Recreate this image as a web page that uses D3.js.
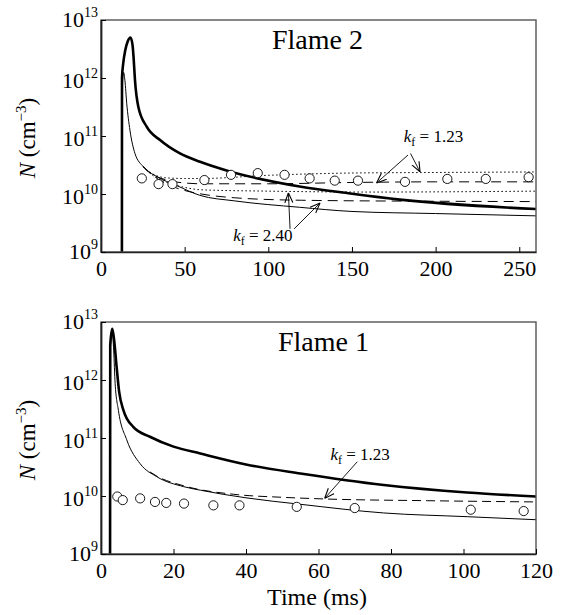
<!DOCTYPE html>
<html>
<head>
<meta charset="utf-8">
<script src="https://cdn.jsdelivr.net/npm/d3@7"></script>
<style>
  body { margin: 0; background: #fff; }
  svg { display: block; }
  svg text { font-family: "Liberation Serif", "Times New Roman", serif; fill: #000; }
</style>
</head>
<body>
<svg id="chart" width="566" height="615"></svg>
<script>
// Flame 2 (upper panel): time in ms, N in cm^-3
var f2Thick = [[12.5,1e9],[12.55,1e12],[13.3,1.8e12],[14.5,3e12],[16,4.3e12],[17.6,5e12],[18.8,3.8e12],[19.5,2.2e12],[20.3,9.3e11],[22.3,3.2e11],[27.3,1.45e11],[35.3,8.5e10],[47.2,5e10],[59.2,3.6e10],[76,2.5e10],[118.7,1.35e10],[149,1.02e10],[178.7,8e9],[260,5.5e9]];
var f2Thin = [[12.5,1e9],[12.55,5e11],[13.5,1.25e12],[14.3,9e11],[15.4,3.6e11],[17.3,1.26e11],[20.3,5e10],[25.3,2.95e10],[33.3,2e10],[45.2,1.4e10],[59,9.5e9],[80,7.6e9],[118.7,5.9e9],[150,5e9],[200,4.6e9],[260,4.2e9]];
var f2Dot123 = [[25.3,2.95e10],[30,2.3e10],[39,1.9e10],[50,1.85e10],[60,1.85e10],[100,2.1e10],[150,2.3e10],[200,2.35e10],[260,2.4e10]];
var f2Dash123 = [[25.3,2.95e10],[30,2.25e10],[39,1.75e10],[50,1.55e10],[60,1.5e10],[100,1.5e10],[150,1.58e10],[200,1.62e10],[260,1.62e10]];
var f2Dot240 = [[25.3,2.95e10],[30,2.2e10],[39,1.6e10],[50,1.3e10],[60,1.18e10],[100,1.12e10],[160,1.08e10],[260,1.12e10]];
var f2Dash240 = [[25.3,2.95e10],[30,2.2e10],[39,1.5e10],[50,1.15e10],[60,1e10],[80,8.6e9],[120,7.8e9],[200,7.5e9],[260,7.4e9]];
var f2ObsTime = [24.4,34.4,42.7,61.8,77.7,93.7,109.7,124.7,139.7,153.6,181.7,207,230,255.6];
var f2ObsN = [1.86e10,1.48e10,1.48e10,1.74e10,2.14e10,2.29e10,2.14e10,1.86e10,1.7e10,1.7e10,1.62e10,1.82e10,1.82e10,1.95e10];

// Flame 1 (lower panel)
var f1Thick = [[2.5,1e9],[2.55,4e12],[3.1,7.6e12],[3.6,5e12],[4.3,1.7e12],[5,6.3e11],[6.2,3e11],[8.9,1.55e11],[13.5,1.05e11],[20,7.1e10],[27.4,5.4e10],[40,3.5e10],[55,2.45e10],[78,1.55e10],[101,1.15e10],[120,9.8e9]];
var f1Thin = [[2.5,1e9],[2.55,3e12],[3.1,7e12],[3.5,3.2e12],[3.9,8.7e11],[4.8,3e11],[7.1,9.3e10],[10.8,3.6e10],[15.4,2.15e10],[22.8,1.45e10],[27.4,1.26e10],[40,9.3e9],[55,7.2e9],[78,5.1e9],[101,4.4e9],[120,3.9e9]];
var f1Dash123 = [[13.5,2.6e10],[15.4,2.2e10],[22.8,1.5e10],[36.6,1.07e10],[50,9.5e9],[61.5,8.9e9],[90,8.3e9],[120,7.9e9]];
var f1ObsTime = [4.5,6.0,10.8,14.9,18.0,22.9,31,38.2,54,70,102,116.6];
var f1ObsN = [9.8e9,8.5e9,9.1e9,7.9e9,7.6e9,7.4e9,6.9e9,6.9e9,6.5e9,6.2e9,5.8e9,5.5e9];

var yTicks = [1e9,1e10,1e11,1e12,1e13];
var f2XTicks = [0,50,100,150,200,250];
var f1XTicks = [0,20,40,60,80,100,120];

var svg = d3.select("#chart");

svg.append("defs").append("marker")
	.attr("id", "arrow")
	.attr("viewBox", "0 0 10 10")
	.attr("refX", 10)
	.attr("refY", 5)
	.attr("markerWidth", 10)
	.attr("markerHeight", 10)
	.attr("markerUnits", "userSpaceOnUse")
	.attr("orient", "auto")
	.append("path")
	.attr("d", "M0,1 L10,5 L0,9")
	.attr("fill", "none")
	.attr("stroke", "#000")
	.attr("stroke-width", 1.1);

function kfLabel(g, x, y, val){
	var t = g.append("text")
		.attr("x", x)
		.attr("y", y)
		.style("font-size", "17px");
	t.append("tspan").style("font-style", "italic").text("k");
	t.append("tspan").style("font-size", "12px").attr("dy", 4).text("f");
	t.append("tspan").attr("dy", -4).text(" = " + val);
}

function drawPanel(opt){
	var x0 = 101, x1 = 536;
	var x = d3.scaleLinear().domain(opt.xDomain).range([x0, x1]);
	var y = d3.scaleLog().domain([1e9, 1e13]).range([opt.bottom, opt.top]);
	var g = svg.append("g");

	var clipId = "clip" + opt.id;
	g.append("clipPath").attr("id", clipId)
		.append("rect")
		.attr("x", x0).attr("y", opt.top)
		.attr("width", x1 - x0).attr("height", opt.bottom - opt.top);

	var line = d3.line()
		.x(d => x(d[0]))
		.y(d => y(d[1]))
		.curve(d3.curveMonotoneX);

	var plot = g.append("g").attr("clip-path", "url(#" + clipId + ")");

	opt.series.forEach(function(s){
		plot.append("path")
			.datum(s.data)
			.attr("d", line)
			.attr("fill", "none")
			.attr("stroke", "#000")
			.attr("stroke-width", s.width)
			.attr("stroke-dasharray", s.dash || null);
	});

	plot.selectAll("circle.obs")
		.data(opt.obsT)
		.enter()
		.append("circle")
		.attr("class", "obs")
		.attr("cx", d => x(d))
		.attr("cy", (d, i) => y(opt.obsN[i]))
		.attr("r", 4.6)
		.attr("fill", "#fff")
		.attr("stroke", "#000")
		.attr("stroke-width", 0.9);

	// frame
	g.append("rect")
		.attr("x", x0).attr("y", opt.top)
		.attr("width", x1 - x0).attr("height", opt.bottom - opt.top)
		.attr("fill", "none")
		.attr("stroke", "#555")
		.attr("stroke-width", 1.4);

	// x axis
	var xa = g.append("g")
		.attr("transform", "translate(0," + opt.bottom + ")")
		.call(d3.axisBottom(x).tickValues(opt.xTicks).tickSizeInner(-5).tickSizeOuter(0).tickPadding(8));
	xa.select(".domain").attr("stroke", "#222").attr("stroke-width", 1.4);
	xa.selectAll("text")
		.style("font-family", "'Liberation Serif', serif")
		.style("font-size", "22px");

	// y axis
	var ya = g.append("g")
		.attr("transform", "translate(" + x0 + ",0)")
		.call(d3.axisLeft(y).tickValues(yTicks).tickSizeInner(-5).tickSizeOuter(0).tickFormat(""));
	ya.select(".domain").attr("stroke", "#222").attr("stroke-width", 1.8);

	ya.selectAll(".tick")
		.append("text")
		.attr("x", -3)
		.attr("y", (d, i) => (i === 0 || i === yTicks.length - 1) ? 6 : 9)
		.attr("text-anchor", "end")
		.style("font-family", "'Liberation Serif', serif")
		.each(function(d){
			var t = d3.select(this);
			t.append("tspan").style("font-size", "22px").text("10");
			t.append("tspan").style("font-size", "14px").attr("dy", -10).text(Math.round(Math.log10(d)));
		});

	// y label
	var yl = g.append("text")
		.attr("transform", "translate(35," + ((opt.top + opt.bottom) / 2 + 2) + ") rotate(-90)")
		.attr("text-anchor", "middle")
		.style("font-size", "23px");
	yl.append("tspan").style("font-style", "italic").text("N");
	yl.append("tspan").text(" (cm");
	yl.append("tspan").style("font-size", "15px").attr("dy", -9).text("\u22123");
	yl.append("tspan").attr("dy", 9).text(")");

	// title
	g.append("text")
		.attr("x", opt.titleX)
		.attr("y", opt.top + 29)
		.style("font-size", "28px")
		.text(opt.title);

	// annotations
	opt.notes.forEach(function(n){
		kfLabel(g, x(n.label[0]), y(n.label[1]), n.text);
		n.arrows.forEach(function(a){
			g.append("line")
				.attr("x1", x(a[0])).attr("y1", y(a[1]))
				.attr("x2", x(a[2])).attr("y2", y(a[3]))
				.attr("stroke", "#000")
				.attr("stroke-width", 0.9)
				.attr("marker-end", "url(#arrow)");
		});
	});
}

drawPanel({
	id: 2, top: 20, bottom: 252, xDomain: [0, 260], xTicks: f2XTicks,
	title: "Flame 2", titleX: 272,
	series: [
		{data: f2Thick, width: 2.6},
		{data: f2Thin, width: 1},
		{data: f2Dot123, width: 1, dash: "1.5,2.5"},
		{data: f2Dash123, width: 1, dash: "10,6"},
		{data: f2Dot240, width: 1, dash: "1.5,2.5"},
		{data: f2Dash240, width: 1, dash: "10,6"}
	],
	obsT: f2ObsTime, obsN: f2ObsN,
	notes: [
		{label: [181, 8e10], text: "1.23", arrows: [[183.5, 4.7e10, 164.7, 1.55e10], [185, 5e10, 190.7, 2.4e10]]},
		{label: [79, 1.55e9], text: "2.40", arrows: [[113, 2.5e9, 112, 1.05e10], [115.4, 2.5e9, 130.9, 7e9]]}
	]
});

drawPanel({
	id: 1, top: 322, bottom: 554, xDomain: [0, 120], xTicks: f1XTicks,
	title: "Flame 1", titleX: 278,
	series: [
		{data: f1Thick, width: 2.6},
		{data: f1Thin, width: 1},
		{data: f1Dash123, width: 1, dash: "9,5"}
	],
	obsT: f1ObsTime, obsN: f1ObsN,
	notes: [
		{label: [63.3, 4.1e10], text: "1.23", arrows: [[70.7, 3.9e10, 61.7, 9.1e9]]}
	]
});

svg.append("text")
	.attr("x", 317)
	.attr("y", 605)
	.attr("text-anchor", "middle")
	.style("font-size", "24px")
	.text("Time (ms)");
</script>
</body>
</html>
